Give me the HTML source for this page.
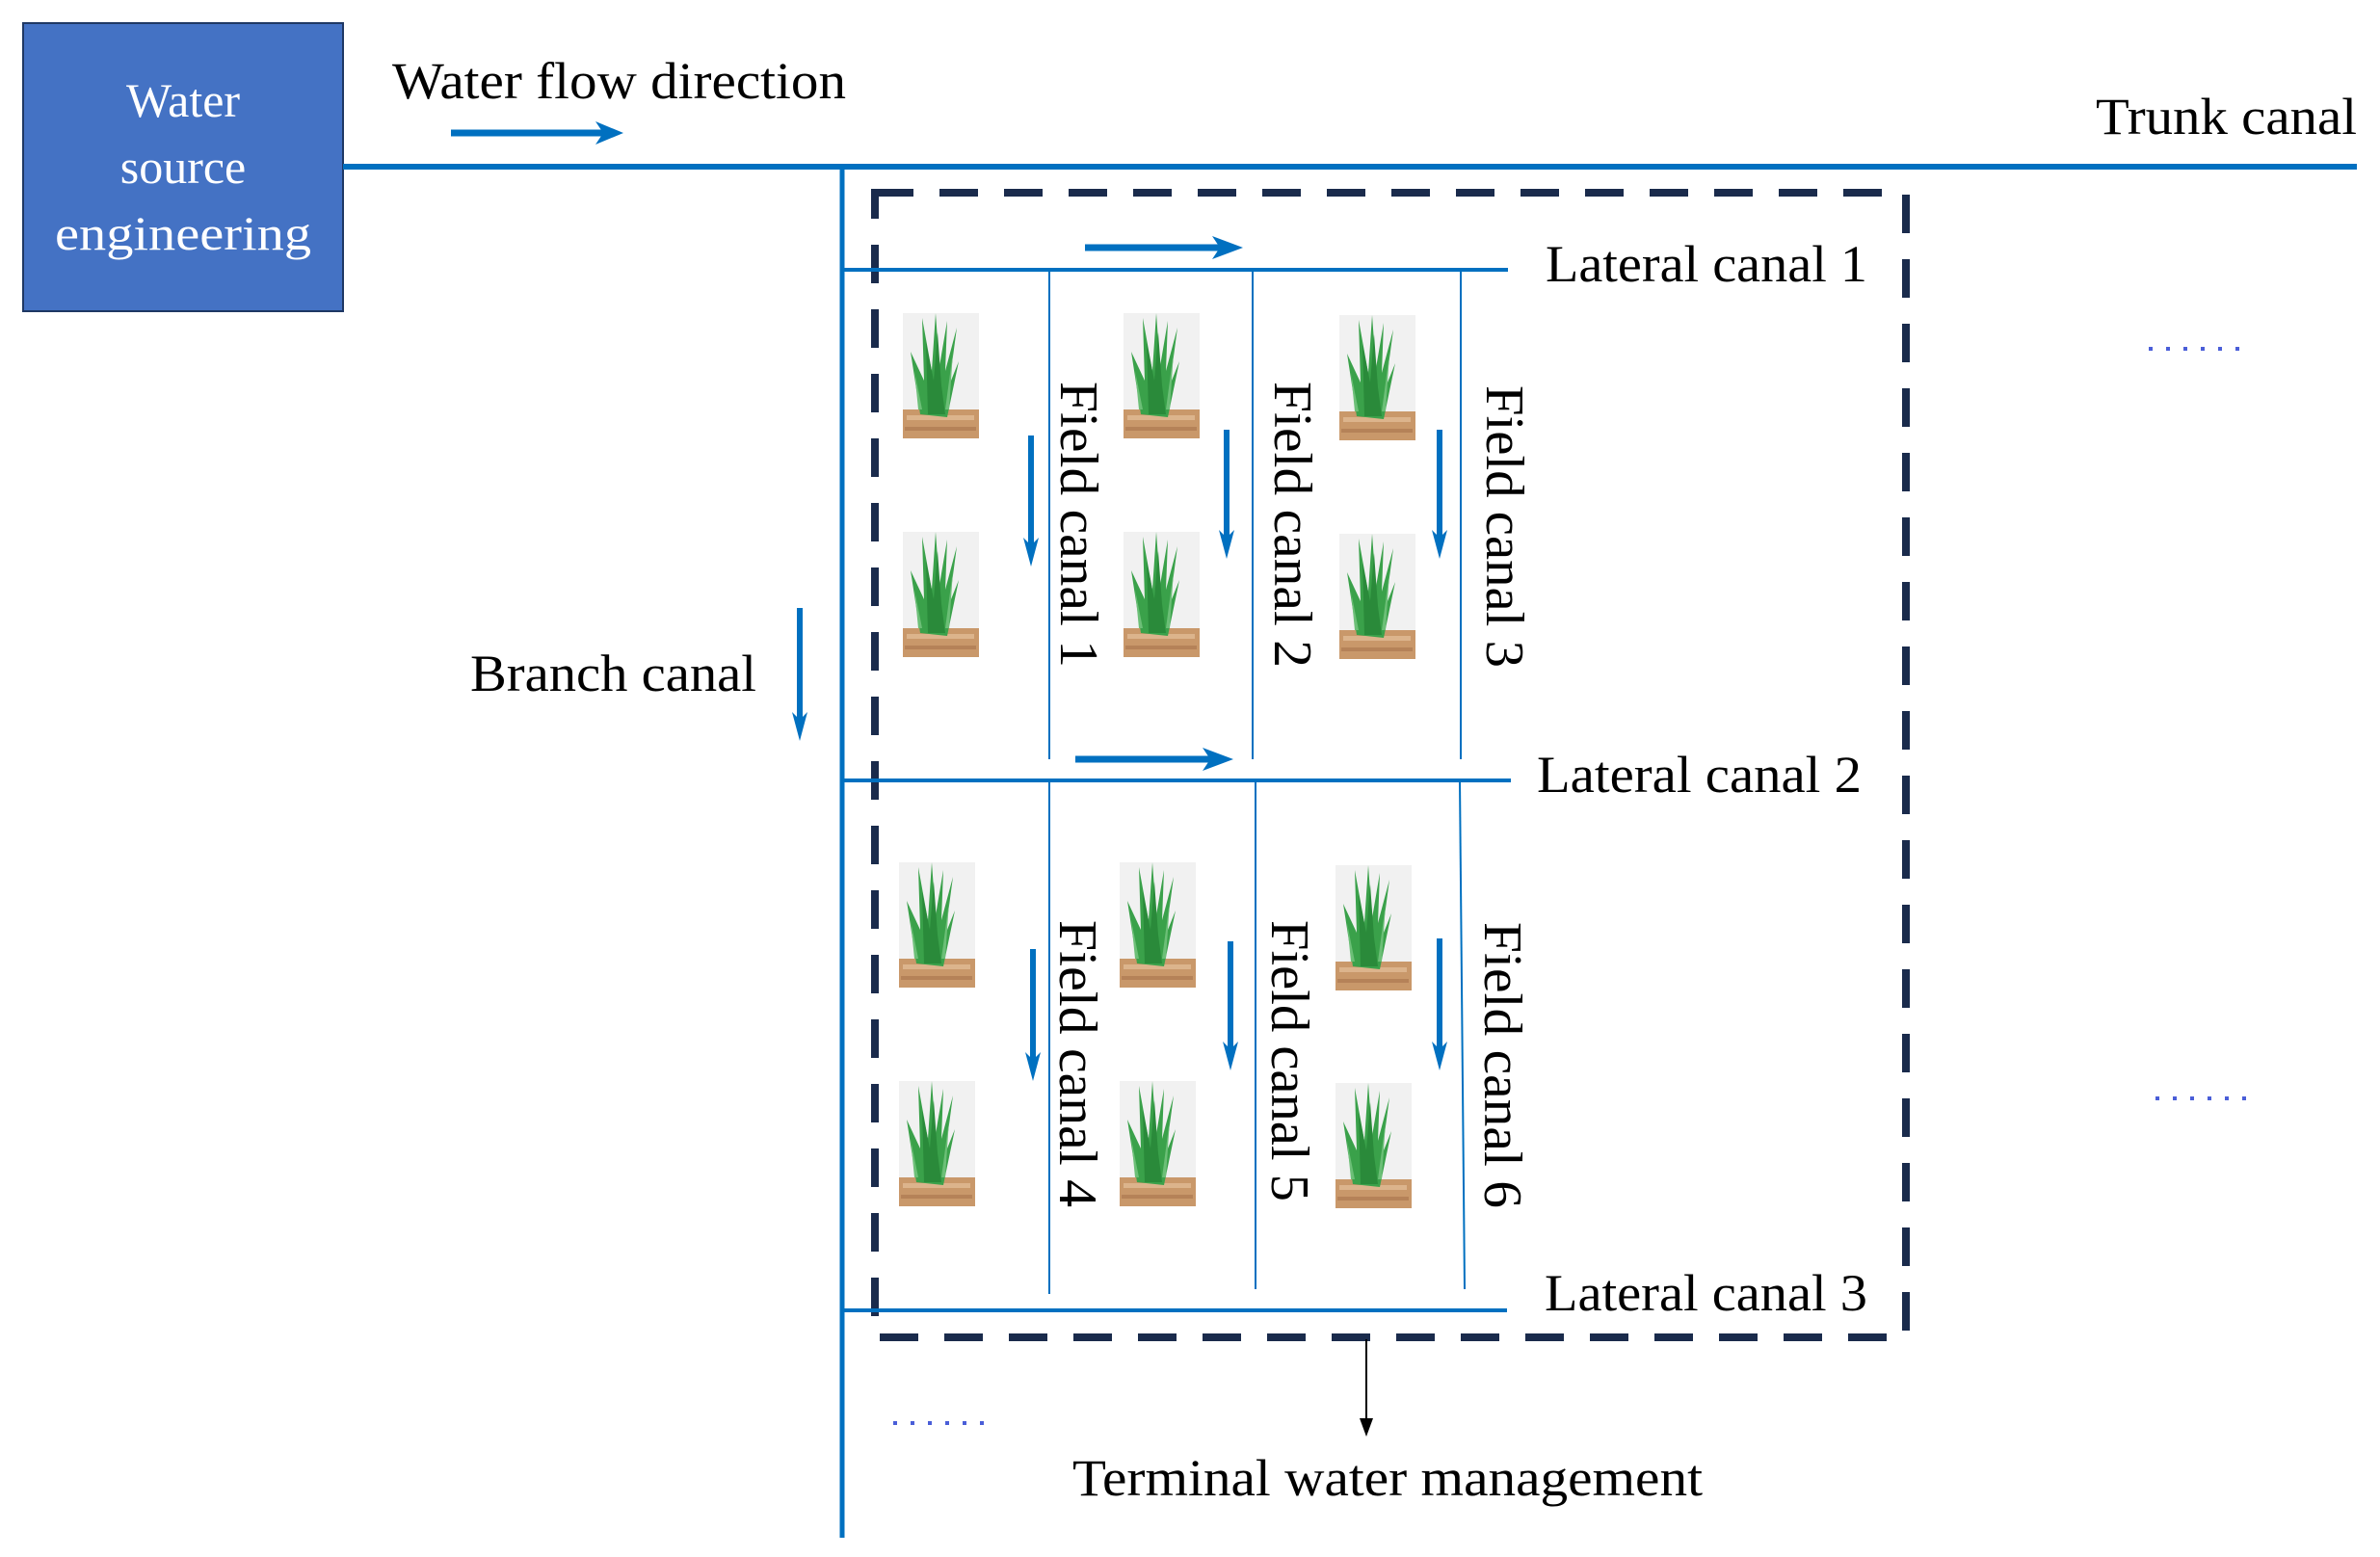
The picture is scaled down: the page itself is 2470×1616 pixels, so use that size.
<!DOCTYPE html>
<html><head><meta charset="utf-8"><style>
html,body{margin:0;padding:0;background:#fff;}
svg{display:block;}
text{font-family:"Liberation Serif",serif;fill:#000;}
</style></head><body>
<svg width="2470" height="1616" viewBox="0 0 2470 1616" xmlns="http://www.w3.org/2000/svg">
<defs>
<g id="plant">
<rect x="0" y="0" width="79" height="130" fill="#f1f1f1"/>
<rect x="0" y="100" width="79" height="30" fill="#c9986a"/>
<rect x="4" y="106" width="70" height="5" fill="#dcb48c"/>
<rect x="2" y="118" width="74" height="4" fill="#b58258"/>
<path d="M18 105 L8 40 L22 70 L20 5 L30 60 L34 0 L38 55 L46 8 L44 60 L56 15 L48 75 L58 50 L46 108 Z" fill="#3aa14a"/>
<path d="M26 105 L24 30 L32 70 L36 20 L40 75 L44 105 Z" fill="#2a8a3a"/>
<path d="M12 60 L20 100 L16 100 Z M52 40 L44 100 L48 100 Z" fill="#6cbf77"/>
</g>
</defs>

<!-- water source box -->
<rect x="24" y="24" width="332" height="299" fill="#4472c4" stroke="#1f3864" stroke-width="2"/>
<text x="190" y="121" font-size="50" text-anchor="middle" style="fill:#fff">Water</text>
<text x="190" y="190" font-size="50" text-anchor="middle" style="fill:#fff">source</text>
<text x="190" y="259" font-size="50" text-anchor="middle" style="fill:#fff" textLength="266" lengthAdjust="spacingAndGlyphs">engineering</text>

<text x="407" y="102" font-size="54" textLength="471" lengthAdjust="spacingAndGlyphs">Water flow direction</text>
<text x="2175" y="139" font-size="54" textLength="271" lengthAdjust="spacingAndGlyphs">Trunk canal</text>

<!-- trunk & branch -->
<line x1="356" y1="173" x2="2446" y2="173" stroke="#0070c0" stroke-width="6"/>
<line x1="874" y1="173" x2="874" y2="1596" stroke="#0070c0" stroke-width="5"/>

<!-- water flow arrow -->
<line x1="468" y1="138" x2="630" y2="138" stroke="#0070c0" stroke-width="7"/>
<polygon points="647,138 618,126 626,138 618,150" fill="#0070c0"/>

<!-- dashed box -->
<rect x="908" y="200" width="1070" height="1188" fill="none" stroke="#1a2b4c" stroke-width="8" stroke-dasharray="40,27"/>

<!-- lateral canals -->
<line x1="874" y1="280" x2="1565" y2="280" stroke="#0070c0" stroke-width="4"/>
<line x1="874" y1="810" x2="1568" y2="810" stroke="#0070c0" stroke-width="4"/>
<line x1="874" y1="1360" x2="1564" y2="1360" stroke="#0070c0" stroke-width="4"/>

<!-- field canals -->
<g stroke="#0070c0" stroke-width="2">
<line x1="1089" y1="280" x2="1089" y2="788"/>
<line x1="1300" y1="280" x2="1300" y2="788"/>
<line x1="1516" y1="280" x2="1516" y2="788"/>
<line x1="1089" y1="810" x2="1089" y2="1343"/>
<line x1="1303" y1="810" x2="1303" y2="1338"/>
<line x1="1515" y1="810" x2="1520" y2="1338"/>
</g>

<!-- labels -->
<text x="1604" y="292" font-size="54" textLength="334" lengthAdjust="spacingAndGlyphs">Lateral canal 1</text>
<text x="1595" y="822" font-size="54" textLength="337" lengthAdjust="spacingAndGlyphs">Lateral canal 2</text>
<text x="1603" y="1360" font-size="54" textLength="335" lengthAdjust="spacingAndGlyphs">Lateral canal 3</text>
<text x="488" y="717" font-size="54" textLength="297" lengthAdjust="spacingAndGlyphs">Branch canal</text>
<text x="1113" y="1552" font-size="54" textLength="654" lengthAdjust="spacingAndGlyphs">Terminal water management</text>

<g font-size="56">
<text transform="translate(1101,396) rotate(90)" textLength="297" lengthAdjust="spacingAndGlyphs">Field canal 1</text>
<text transform="translate(1323,396) rotate(90)" textLength="297" lengthAdjust="spacingAndGlyphs">Field canal 2</text>
<text transform="translate(1543,400) rotate(90)" textLength="293" lengthAdjust="spacingAndGlyphs">Field canal 3</text>
<text transform="translate(1100,955) rotate(90)" textLength="298" lengthAdjust="spacingAndGlyphs">Field canal 4</text>
<text transform="translate(1320,955) rotate(90)" textLength="292" lengthAdjust="spacingAndGlyphs">Field canal 5</text>
<text transform="translate(1541,957) rotate(90)" textLength="297" lengthAdjust="spacingAndGlyphs">Field canal 6</text>
</g>

<!-- horizontal lateral arrows -->
<line x1="1126" y1="257" x2="1272" y2="257" stroke="#0070c0" stroke-width="7"/>
<polygon points="1290,257 1258,245 1266,257 1258,269" fill="#0070c0"/>
<line x1="1116" y1="788" x2="1262" y2="788" stroke="#0070c0" stroke-width="7"/>
<polygon points="1280,788 1248,776 1256,788 1248,800" fill="#0070c0"/>

<!-- vertical arrows -->
<g fill="#0070c0" stroke="#0070c0">
<line x1="1070" y1="452" x2="1070" y2="570" stroke-width="6"/><polygon points="1070,588 1062,558 1070,566 1078,558" stroke="none"/>
<line x1="1273" y1="446" x2="1273" y2="562" stroke-width="6"/><polygon points="1273,580 1265,550 1273,558 1281,550" stroke="none"/>
<line x1="1494" y1="446" x2="1494" y2="562" stroke-width="6"/><polygon points="1494,580 1486,550 1494,558 1502,550" stroke="none"/>
<line x1="1072" y1="985" x2="1072" y2="1104" stroke-width="6"/><polygon points="1072,1122 1064,1092 1072,1100 1080,1092" stroke="none"/>
<line x1="1277" y1="977" x2="1277" y2="1093" stroke-width="6"/><polygon points="1277,1111 1269,1081 1277,1089 1285,1081" stroke="none"/>
<line x1="1494" y1="974" x2="1494" y2="1093" stroke-width="6"/><polygon points="1494,1111 1486,1081 1494,1089 1502,1081" stroke="none"/>
<line x1="830" y1="631" x2="830" y2="750" stroke-width="6"/><polygon points="830,769 822,739 830,747 838,739" stroke="none"/>
</g>

<!-- black arrow -->
<line x1="1418" y1="1390" x2="1418" y2="1475" stroke="#000" stroke-width="2"/>
<polygon points="1418,1491 1411,1472 1425,1472" fill="#000"/>

<!-- dots -->
<g stroke="#4a5ed8" stroke-width="4" stroke-dasharray="4,14">
<line x1="2230" y1="362" x2="2335" y2="362"/>
<line x1="2237" y1="1140" x2="2342" y2="1140"/>
<line x1="927" y1="1477" x2="1032" y2="1477"/>
</g>

<!-- plants -->
<use href="#plant" x="937" y="325"/>
<use href="#plant" x="1166" y="325"/>
<use href="#plant" x="1390" y="327"/>
<use href="#plant" x="937" y="552"/>
<use href="#plant" x="1166" y="552"/>
<use href="#plant" x="1390" y="554"/>
<use href="#plant" x="933" y="895"/>
<use href="#plant" x="1162" y="895"/>
<use href="#plant" x="1386" y="898"/>
<use href="#plant" x="933" y="1122"/>
<use href="#plant" x="1162" y="1122"/>
<use href="#plant" x="1386" y="1124"/>
</svg>
</body></html>
